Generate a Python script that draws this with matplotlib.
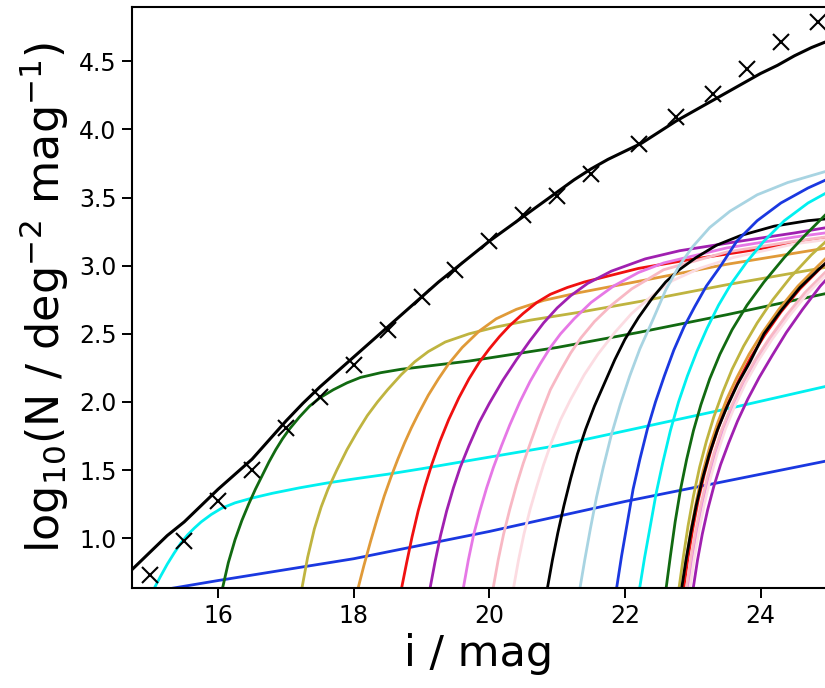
import matplotlib
matplotlib.use("Agg")
import matplotlib.pyplot as plt

# ---------------- data ----------------
total_x = [14.60, 14.73, 15.0, 15.25, 15.5, 15.75, 16.0, 16.25, 16.5, 16.75, 17.0, 17.25, 17.5,
           17.75, 18.0, 18.25, 18.5, 18.75, 19.0, 19.25, 19.5, 19.75, 20.0, 20.25, 20.5,
           20.75, 21.0, 21.25, 21.5, 21.75, 22.0, 22.25, 22.5, 22.75, 23.0, 23.25, 23.5,
           23.75, 24.0, 24.25, 24.5, 24.75, 25.0, 25.1]
total_y = [0.70, 0.77, 0.90, 1.02, 1.12, 1.24, 1.36, 1.47, 1.58, 1.72, 1.86, 1.99, 2.11,
           2.22, 2.33, 2.44, 2.55, 2.66, 2.77, 2.88, 2.98, 3.08, 3.18, 3.27, 3.36,
           3.45, 3.54, 3.63, 3.71, 3.78, 3.84, 3.90, 3.98, 4.06, 4.13, 4.20, 4.27,
           4.34, 4.41, 4.47, 4.54, 4.60, 4.65, 4.67]

obs_x = [15.0, 15.5, 16.0, 16.5, 17.0, 17.5, 18.0, 18.5, 19.0, 19.5, 20.0, 20.5,
         21.0, 21.5, 22.2, 22.75, 23.3, 23.8, 24.3, 24.85]
obs_y = [0.73, 0.98, 1.27, 1.50, 1.81, 2.04, 2.27, 2.53, 2.77, 2.97, 3.18, 3.37,
         3.51, 3.67, 3.89, 4.09, 4.26, 4.44, 4.64, 4.79]

blue1_x = [15.20, 15.32, 16.0, 17.0, 18.0, 19.0, 20.0, 21.0, 22.0, 23.0, 24.0, 25.1]
blue1_y = [0.61, 0.633, 0.69, 0.77, 0.85, 0.95, 1.05, 1.16, 1.27, 1.37, 1.47, 1.58]

cyan1_x = [15.04, 15.07, 15.15, 15.25, 15.35, 15.45, 15.55, 15.65, 15.75, 15.9, 16.05, 16.25,
           16.5, 16.8, 17.2, 17.6, 18.0, 18.5, 19.0, 19.7, 21.0, 22.3, 23.6, 25.1]
cyan1_y = [0.60, 0.645, 0.72, 0.81, 0.89, 0.965, 1.025, 1.075, 1.12, 1.175, 1.22, 1.26,
           1.295, 1.33, 1.37, 1.405, 1.435, 1.47, 1.51, 1.57, 1.68, 1.82, 1.96, 2.13]

green1_x = [16.04, 16.07, 16.15, 16.25, 16.35, 16.45, 16.55, 16.65, 16.75, 16.85, 16.95, 17.05,
            17.2, 17.35, 17.5, 17.7, 17.9, 18.1, 18.4, 18.7, 19.2, 19.7, 21.0, 22.2, 23.5, 25.1]
green1_y = [0.60, 0.645, 0.82, 0.99, 1.13, 1.25, 1.36, 1.46, 1.56, 1.65, 1.73, 1.80,
            1.89, 1.97, 2.03, 2.09, 2.14, 2.18, 2.215, 2.24, 2.27, 2.30, 2.40, 2.51, 2.64, 2.81]

olive1_x = [17.21, 17.24, 17.32, 17.42, 17.52, 17.62, 17.75, 17.9, 18.05, 18.2, 18.35, 18.5,
            18.7, 18.9, 19.1, 19.35, 19.7, 20.1, 20.6, 21.35, 22.25, 23.5, 25.1]
olive1_y = [0.60, 0.645, 0.86, 1.07, 1.23, 1.36, 1.50, 1.65, 1.78, 1.90, 2.00, 2.09,
            2.20, 2.295, 2.37, 2.44, 2.50, 2.55, 2.60, 2.66, 2.74, 2.86, 3.00]

orange1_x = [18.04, 18.07, 18.15, 18.25, 18.35, 18.45, 18.55, 18.65, 18.75, 18.85, 18.95, 19.1,
             19.25, 19.4, 19.6, 19.85, 20.1, 20.4, 20.8, 21.3, 22.25, 23.5, 25.1]
orange1_y = [0.60, 0.645, 0.80, 0.98, 1.15, 1.31, 1.45, 1.58, 1.70, 1.81, 1.91, 2.05,
             2.17, 2.28, 2.40, 2.52, 2.61, 2.68, 2.745, 2.80, 2.89, 3.01, 3.14]

red1_x = [18.68, 18.71, 18.78, 18.86, 18.95, 19.05, 19.15, 19.27, 19.4, 19.55, 19.7, 19.85,
          20.0, 20.15, 20.3, 20.5, 20.7, 20.9, 21.15, 21.4, 21.8, 22.2, 22.9, 23.7, 24.44, 25.1]
red1_y = [0.58, 0.645, 0.82, 1.01, 1.20, 1.38, 1.54, 1.71, 1.87, 2.03, 2.17, 2.29,
          2.39, 2.48, 2.56, 2.65, 2.73, 2.79, 2.84, 2.88, 2.93, 2.98, 3.04, 3.10, 3.16, 3.22]

purple1_x = [19.10, 19.13, 19.2, 19.28, 19.37, 19.47, 19.57, 19.7, 19.85, 20.0, 20.2, 20.4,
             20.6, 20.8, 21.0, 21.2, 21.45, 21.8, 22.3, 22.81, 23.7, 24.5, 25.1]
purple1_y = [0.58, 0.645, 0.83, 1.02, 1.20, 1.37, 1.52, 1.68, 1.85, 1.99, 2.16, 2.31,
             2.45, 2.58, 2.69, 2.78, 2.87, 2.96, 3.05, 3.11, 3.18, 3.24, 3.29]

violet1_x = [19.59, 19.62, 19.69, 19.77, 19.86, 19.96, 20.06, 20.18, 20.3, 20.45, 20.6, 20.75,
             20.9, 21.05, 21.25, 21.5, 21.83, 22.2, 22.57, 23.5, 24.5, 25.1]
violet1_y = [0.58, 0.645, 0.84, 1.03, 1.20, 1.37, 1.52, 1.68, 1.83, 2.00, 2.15, 2.28,
             2.40, 2.50, 2.61, 2.73, 2.85, 2.95, 3.02, 3.13, 3.21, 3.25]

pink1_x = [20.03, 20.06, 20.13, 20.21, 20.3, 20.4, 20.5, 20.62, 20.75, 20.9, 21.05, 21.2,
           21.35, 21.55, 21.8, 22.1, 22.57, 23.5, 24.5, 25.1]
pink1_y = [0.58, 0.645, 0.84, 1.03, 1.21, 1.39, 1.55, 1.72, 1.90, 2.09, 2.23, 2.36,
           2.47, 2.59, 2.71, 2.83, 2.97, 3.10, 3.18, 3.22]

lpink1_x = [20.33, 20.36, 20.43, 20.51, 20.6, 20.7, 20.8, 20.92, 21.05, 21.2, 21.4, 21.6,
            21.85, 22.1, 22.4, 22.7, 23.1, 23.6, 24.5, 25.1]
lpink1_y = [0.58, 0.645, 0.84, 1.03, 1.21, 1.38, 1.54, 1.71, 1.87, 2.02, 2.20, 2.35,
            2.51, 2.65, 2.78, 2.89, 2.98, 3.06, 3.16, 3.20]

black2_x = [20.83, 20.86, 20.93, 21.01, 21.1, 21.2, 21.3, 21.42, 21.55, 21.7, 21.85, 22.0,
            22.2, 22.4, 22.6, 22.8, 23.05, 23.35, 23.7, 24.2, 24.7, 25.1]
black2_y = [0.58, 0.645, 0.84, 1.04, 1.24, 1.44, 1.62, 1.80, 1.97, 2.14, 2.31, 2.46,
            2.62, 2.76, 2.88, 2.97, 3.06, 3.15, 3.22, 3.29, 3.33, 3.35]

lblue_x = [21.31, 21.34, 21.41, 21.49, 21.58, 21.68, 21.8, 21.93, 22.07, 22.22, 22.4, 22.6,
           22.8, 23.0, 23.25, 23.55, 23.95, 24.4, 24.95, 25.1]
lblue_y = [0.58, 0.645, 0.85, 1.07, 1.30, 1.52, 1.76, 1.98, 2.19, 2.39, 2.59, 2.82,
           3.00, 3.14, 3.28, 3.40, 3.52, 3.61, 3.69, 3.71]

blue2_x = [21.85, 21.88, 21.95, 22.03, 22.12, 22.22, 22.33, 22.45, 22.58, 22.72, 22.87, 23.03,
           23.2, 23.4, 23.65, 23.95, 24.3, 24.7, 25.1]
blue2_y = [0.58, 0.645, 0.87, 1.10, 1.36, 1.58, 1.80, 2.00, 2.19, 2.38, 2.55, 2.70,
           2.85, 2.99, 3.18, 3.33, 3.46, 3.57, 3.66]

cyan2_x = [22.19, 22.22, 22.29, 22.37, 22.46, 22.56, 22.67, 22.79, 22.92, 23.06, 23.21, 23.38,
           23.57, 23.8, 24.05, 24.35, 24.7, 25.1]
cyan2_y = [0.58, 0.645, 0.86, 1.08, 1.33, 1.56, 1.79, 2.00, 2.19, 2.37, 2.54, 2.71,
           2.87, 3.03, 3.18, 3.33, 3.46, 3.57]

green2_x = [22.58, 22.61, 22.67, 22.74, 22.82, 22.91, 23.01, 23.12, 23.25, 23.4, 23.58, 23.8,
            24.05, 24.35, 24.65, 24.95, 25.1]
green2_y = [0.58, 0.645, 0.87, 1.12, 1.36, 1.58, 1.79, 1.98, 2.17, 2.35, 2.53, 2.71,
            2.88, 3.06, 3.22, 3.37, 3.44]

olive2_x = [22.77, 22.80, 22.86, 22.93, 23.01, 23.1, 23.2, 23.31, 23.44, 23.58, 23.75, 23.95,
            24.18, 24.45, 24.75, 25.1]
olive2_y = [0.58, 0.645, 0.86, 1.09, 1.31, 1.52, 1.71, 1.89, 2.07, 2.24, 2.41, 2.58,
            2.75, 2.92, 3.08, 3.24]

orange2_x = [22.82, 22.85, 22.91, 22.98, 23.06, 23.15, 23.25, 23.37, 23.5, 23.65, 23.83, 24.03,
             24.27, 24.55, 24.85, 25.1]
orange2_y = [0.58, 0.645, 0.86, 1.08, 1.29, 1.49, 1.67, 1.85, 2.02, 2.18, 2.35, 2.51,
             2.68, 2.85, 3.00, 3.12]

red2_x = [22.84, 22.87, 22.93, 23.0, 23.08, 23.17, 23.27, 23.39, 23.53, 23.68, 23.86, 24.06,
          24.3, 24.58, 24.88, 25.1]
red2_y = [0.58, 0.645, 0.86, 1.07, 1.28, 1.47, 1.65, 1.83, 2.00, 2.16, 2.33, 2.49,
          2.66, 2.83, 2.98, 3.08]

purple2_x = [22.98, 23.01, 23.07, 23.14, 23.22, 23.31, 23.41, 23.53, 23.66, 23.81, 23.98, 24.17,
             24.38, 24.62, 24.88, 25.1]
purple2_y = [0.58, 0.645, 0.84, 1.03, 1.21, 1.38, 1.54, 1.70, 1.86, 2.02, 2.18, 2.34,
             2.51, 2.68, 2.85, 2.97]

violet2_x = [22.91, 22.94, 23.0, 23.07, 23.15, 23.24, 23.34, 23.46, 23.6, 23.76, 23.94, 24.15,
             24.4, 24.68, 24.98, 25.1]
violet2_y = [0.58, 0.645, 0.85, 1.05, 1.25, 1.44, 1.62, 1.80, 1.97, 2.14, 2.30, 2.46,
             2.63, 2.80, 2.95, 3.00]

pink2_x = [22.88, 22.91, 22.97, 23.04, 23.12, 23.21, 23.31, 23.43, 23.57, 23.73, 23.91, 24.12,
           24.37, 24.65, 24.95, 25.1]
pink2_y = [0.58, 0.645, 0.85, 1.05, 1.25, 1.44, 1.62, 1.80, 1.97, 2.14, 2.30, 2.46,
           2.63, 2.80, 2.95, 3.02]

lpink2_x = [22.93, 22.96, 23.02, 23.09, 23.17, 23.26, 23.36, 23.48, 23.62, 23.78, 23.96, 24.17,
            24.42, 24.7, 25.0, 25.1]
lpink2_y = [0.58, 0.645, 0.85, 1.05, 1.25, 1.44, 1.62, 1.80, 1.97, 2.14, 2.30, 2.46,
            2.63, 2.80, 2.95, 3.00]

black3_x = [22.81, 22.84, 22.9, 22.97, 23.05, 23.14, 23.24, 23.36, 23.5, 23.66, 23.84, 24.05,
            24.3, 24.58, 24.85, 25.1]
black3_y = [0.58, 0.645, 0.84, 1.04, 1.24, 1.43, 1.61, 1.79, 1.96, 2.13, 2.29, 2.50,
            2.67, 2.84, 2.97, 3.08]

x_ticks = [16, 18, 20, 22, 24]
y_ticks = [1.0, 1.5, 2.0, 2.5, 3.0, 3.5, 4.0, 4.5]

# ---------------- styling ----------------
C_BLUE = '#1a38e0'
C_CYAN = '#00f0f0'
C_GREEN = '#116a11'
C_OLIVE = '#bfb440'
C_ORANGE = '#e09a38'
C_RED = '#f01010'
C_PURPLE = '#a020b0'
C_VIOLET = '#e678e6'
C_PINK = '#f8b8c4'
C_LPINK = '#fcdce2'
C_BLACK = '#000000'
C_LBLUE = '#a8d4e2'

components = [
    (blue1_x, blue1_y, C_BLUE),
    (cyan1_x, cyan1_y, C_CYAN),
    (green1_x, green1_y, C_GREEN),
    (olive1_x, olive1_y, C_OLIVE),
    (orange1_x, orange1_y, C_ORANGE),
    (red1_x, red1_y, C_RED),
    (purple1_x, purple1_y, C_PURPLE),
    (violet1_x, violet1_y, C_VIOLET),
    (pink1_x, pink1_y, C_PINK),
    (lpink1_x, lpink1_y, C_LPINK),
    (black2_x, black2_y, C_BLACK),
    (lblue_x, lblue_y, C_LBLUE),
    (blue2_x, blue2_y, C_BLUE),
    (cyan2_x, cyan2_y, C_CYAN),
    (green2_x, green2_y, C_GREEN),
    (olive2_x, olive2_y, C_OLIVE),
    (orange2_x, orange2_y, C_ORANGE),
    (red2_x, red2_y, C_RED),
    (purple2_x, purple2_y, C_PURPLE),
    (violet2_x, violet2_y, C_VIOLET),
    (pink2_x, pink2_y, C_PINK),
    (lpink2_x, lpink2_y, C_LPINK),
    (black3_x, black3_y, C_BLACK),
]

plt.rcParams['font.family'] = ['DejaVu Sans']
fig = plt.figure(figsize=(8.25, 6.88), dpi=100)
ax = fig.add_axes([132 / 825, (688 - 588.3) / 688, (825 - 132) / 825, (588.3 - 6.7) / 688])

for xs, ys, c in components:
    ax.plot(xs, ys, color=c, lw=2.0, solid_joinstyle='round')

ax.plot(total_x, total_y, color='black', lw=2.2, solid_joinstyle='round')
ax.plot(obs_x, obs_y, linestyle='none', marker='x', color='black',
        markersize=12, markeredgewidth=1.5)

ax.set_xlim(14.73, 24.95)
ax.set_ylim(0.633, 4.90)
ax.set_xticks(x_ticks)
ax.set_yticks(y_ticks)
ax.set_yticklabels([f"{v:.1f}" for v in y_ticks])
ax.tick_params(axis='both', which='major', labelsize=17, length=7, width=1.4, pad=4)
for s in ['left', 'bottom', 'top']:
    ax.spines[s].set_linewidth(1.5)
ax.spines['right'].set_visible(False)

ax.set_xlabel('i / mag', fontsize=31, labelpad=4)
ax.set_ylabel(r'$\mathrm{log_{10}(N\ /\ deg^{-2}\ mag^{-1})}$', fontsize=32, labelpad=6)

fig.savefig('out.png', dpi=100)
